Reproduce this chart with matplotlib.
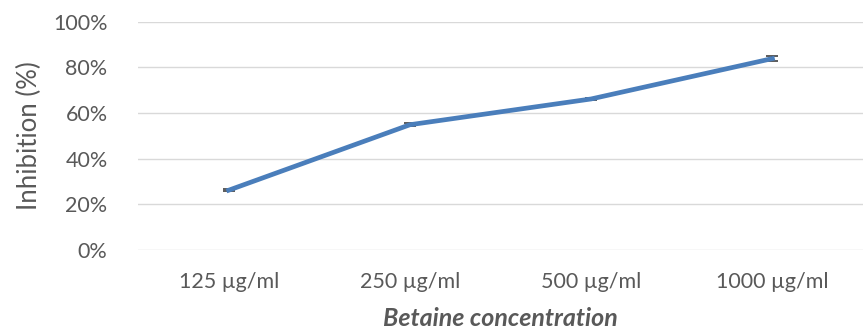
import matplotlib
matplotlib.use("Agg")
import matplotlib.pyplot as plt
from matplotlib.ticker import PercentFormatter

# data
categories = ["125 µg/ml", "250 µg/ml", "500 µg/ml", "1000 µg/ml"]
inhibition = [26.2, 54.9, 66.2, 83.9]
errors = [0.5, 0.6, 0.5, 1.2]

plt.rcParams["font.family"] = ["Lato", "DejaVu Sans"]
grey = "#595959"

fig = plt.figure(figsize=(8.63, 3.36), dpi=100)
ax = fig.add_axes([0.160, 0.256, 0.840, 0.679])

x = list(range(len(categories)))
ax.errorbar(x, inhibition, yerr=errors, color="#4A7EBB", linewidth=3.4,
            ecolor="#404040", elinewidth=1.2, capsize=4, capthick=1.2, zorder=3)

ax.set_xlim(-0.5, len(categories) - 0.5)
ax.set_ylim(0, 100)
ax.set_yticks(range(0, 101, 20))
ax.yaxis.set_major_formatter(PercentFormatter(decimals=0))
ax.set_xticks(x)
ax.set_xticklabels(categories)
ax.grid(axis="y", color="#d9d9d9", linewidth=1)
ax.set_axisbelow(True)
for s in ["top", "right", "left", "bottom"]:
    ax.spines[s].set_visible(False)
ax.tick_params(axis="both", length=0, colors=grey, labelsize=15.5)
ax.tick_params(axis="x", pad=16)
ax.tick_params(axis="y", pad=22)

ax.set_ylabel("Inhibition (%)", color=grey, fontsize=18.5, labelpad=8)
ax.set_xlabel("Betaine concentration", color=grey, fontsize=18,
              fontweight="bold", fontstyle="italic", labelpad=11)

fig.savefig("out.png", dpi=100)
